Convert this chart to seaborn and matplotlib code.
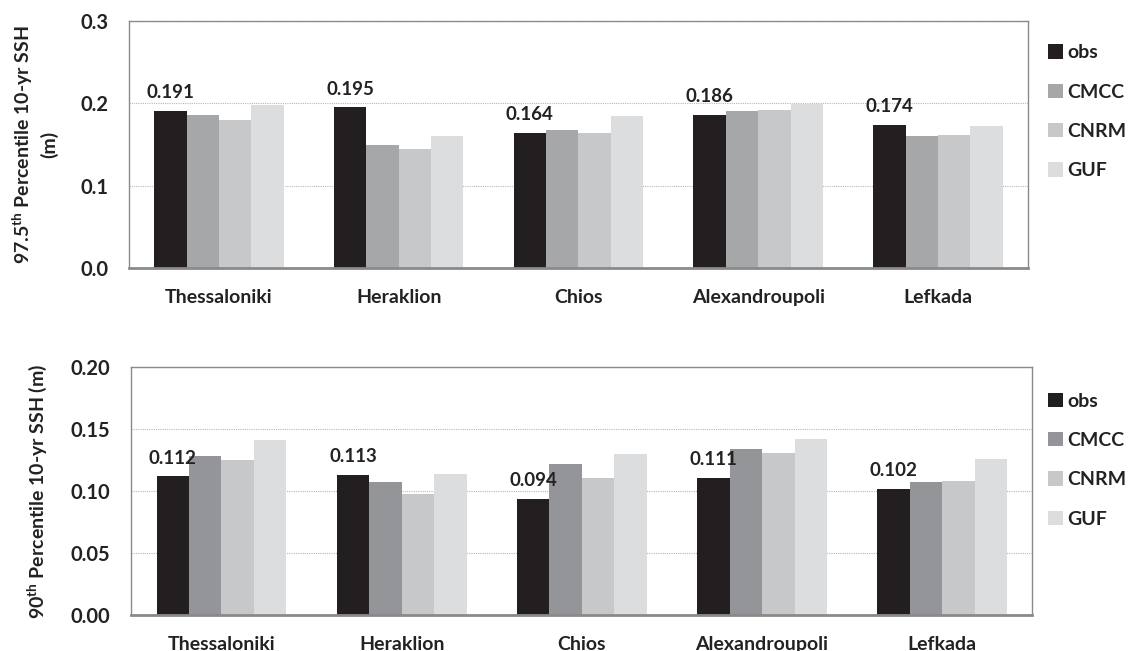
import matplotlib
matplotlib.use("Agg")
import matplotlib.pyplot as plt
import seaborn as sns
import pandas as pd

stations = ["Thessaloniki", "Heraklion", "Chios", "Alexandroupoli", "Lefkada"]
sources = ["obs", "CMCC", "CNRM", "GUF"]

# 97.5th percentile of 10-yr sea surface height (m)
p975_obs = [0.191, 0.195, 0.164, 0.186, 0.174]
p975_cmcc = [0.186, 0.149, 0.168, 0.191, 0.160]
p975_cnrm = [0.180, 0.145, 0.164, 0.192, 0.162]
p975_guf = [0.198, 0.160, 0.185, 0.199, 0.172]

# 90th percentile of 10-yr sea surface height (m)
p90_obs = [0.112, 0.113, 0.094, 0.111, 0.102]
p90_cmcc = [0.128, 0.107, 0.122, 0.134, 0.107]
p90_cnrm = [0.125, 0.098, 0.111, 0.131, 0.108]
p90_guf = [0.141, 0.114, 0.130, 0.142, 0.126]

top_ticks = [0.0, 0.1, 0.2, 0.3]
top_ticklabels = ["0.0", "0.1", "0.2", "0.3"]
bot_ticks = [0.0, 0.05, 0.10, 0.15, 0.20]
bot_ticklabels = ["0.00", "0.05", "0.10", "0.15", "0.20"]

sns.set_theme(style="white")
plt.rcParams["font.family"] = ["Lato", "DejaVu Sans"]
plt.rcParams["font.weight"] = "bold"
plt.rcParams["mathtext.fontset"] = "custom"
plt.rcParams["mathtext.rm"] = "Lato"
plt.rcParams["mathtext.bf"] = "Lato:bold"


def long_frame(series):
    rows = []
    for src, vals in zip(sources, series):
        for st, v in zip(stations, vals):
            rows.append({"station": st, "source": src, "value": v})
    return pd.DataFrame(rows)


def draw_panel(fig, ax, series, palette, ticks, ticklabels, ylabel, fmt, legend_y):
    df = long_frame(series)
    sns.barplot(data=df, x="station", y="value", hue="source",
                order=stations, hue_order=sources, palette=palette,
                width=0.72, dodge=True, ax=ax, saturation=1.0,
                errorbar=None, linewidth=0)
    ax.set_ylim(ticks[0], ticks[-1])
    ax.set_xlim(-0.5, len(stations) - 0.5)
    ax.set_yticks(ticks)
    ax.set_yticklabels(ticklabels, fontsize=14.5, fontweight="bold", color="#222222")
    ax.set_xticks(range(len(stations)))
    ax.set_xticklabels(stations, fontsize=14, fontweight="bold", color="#222222")
    ax.tick_params(axis="x", length=0, pad=15)
    ax.tick_params(axis="y", length=0, pad=15)
    ax.set_xlabel("")
    ax.set_ylabel(ylabel, fontsize=14, fontweight="bold", color="#222222",
                  labelpad=16, linespacing=1.3)
    ax.yaxis.grid(True, linestyle=(0, (1, 1)), color="#b8b8b8", linewidth=0.8)
    ax.set_axisbelow(True)
    for side in ["top", "right", "left"]:
        ax.spines[side].set_color("#8a8a8a")
        ax.spines[side].set_linewidth(1.0)
    ax.spines["bottom"].set_color("#8a8a8a")
    ax.spines["bottom"].set_linewidth(2.0)

    # value labels above the observed bars
    obs_bars = ax.containers[0]
    ax.bar_label(obs_bars, labels=[fmt.format(v) for v in series[0]],
                 padding=7, fontsize=13.5, fontweight="bold", color="#222222")

    handles, labels = ax.get_legend_handles_labels()
    ax.legend(handles, labels, loc="upper left", bbox_to_anchor=(0.926, legend_y),
              bbox_transform=fig.transFigure,
              frameon=False, fontsize=14, handlelength=0.75, handleheight=0.75,
              handletextpad=0.25, labelspacing=1.15, borderaxespad=0, borderpad=0)
    for t in ax.get_legend().get_texts():
        t.set_fontweight("bold")
        t.set_color("#222222")


fig = plt.figure(figsize=(11.32, 6.51), dpi=100)
ax1 = fig.add_axes([0.114, 0.588, 0.794, 0.380])
ax2 = fig.add_axes([0.116, 0.055, 0.796, 0.381])

draw_panel(fig, ax1, [p975_obs, p975_cmcc, p975_cnrm, p975_guf],
           ["#231f20", "#a6a7a9", "#c7c8ca", "#dcdddf"],
           top_ticks, top_ticklabels,
           "97.5$^{\\mathbf{th}}$ Percentile 10-yr SSH\n(m)", "{:.3f}", 0.932)
draw_panel(fig, ax2, [p90_obs, p90_cmcc, p90_cnrm, p90_guf],
           ["#231f20", "#949598", "#c7c8ca", "#dcdddf"],
           bot_ticks, bot_ticklabels,
           "90$^{\\mathbf{th}}$ Percentile 10-yr SSH (m)", "{:.3f}", 0.397)

fig.savefig("out.png", dpi=100, facecolor="white")
